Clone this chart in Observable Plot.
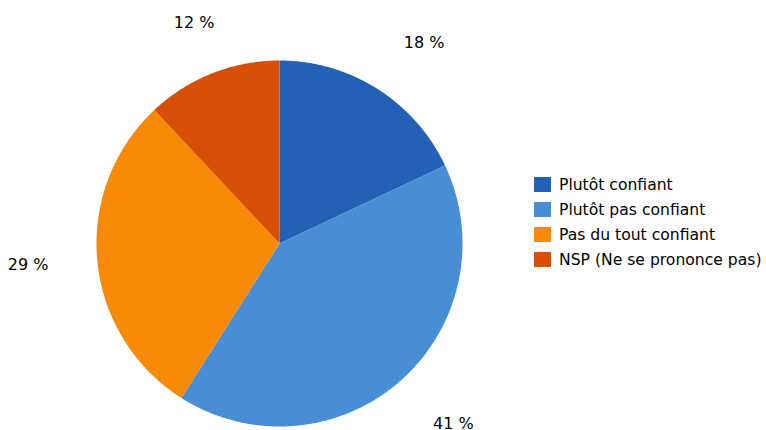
<!DOCTYPE html>
<html>
<head>
<meta charset="utf-8">
<script src="https://cdn.jsdelivr.net/npm/d3@7"></script>
<script src="https://cdn.jsdelivr.net/npm/@observablehq/plot@0.6"></script>
<style>
  html, body { margin: 0; padding: 0; background: #fff; }
  #wrap { position: relative; width: 766px; height: 430px; font-family: "DejaVu Sans", Verdana, sans-serif; }
  #legend { position: absolute; left: 534px; top: 172px; font-size: 15.6px; color: #000; white-space: nowrap; }
  .row { display: flex; align-items: center; height: 25px; white-space: nowrap; }
  .sw { width: 17px; height: 15px; margin-right: 8px; flex: none; }
</style>
</head>
<body>
<div id="wrap"></div>
<script>
const categories = ["Plutôt confiant", "Plutôt pas confiant", "Pas du tout confiant", "NSP (Ne se prononce pas)"];
const values = [18, 41, 29, 12];
const labels = ["18 %", "41 %", "29 %", "12 %"];
const colors = ["#2361b7", "#478ed4", "#f98a06", "#d74f05"];

const W = 766, H = 430, cx = 279, cy = 243, R = 183;

const arcs = d3.pie().sort(null).value(d => d)(values);
const slices = [];
arcs.forEach((a, i) => {
  const n = Math.max(2, Math.ceil((a.endAngle - a.startAngle) / 0.005));
  slices.push({cat: categories[i], x: 0, y: 0});
  for (let k = 0; k <= n; k++) {
    const t = a.startAngle + (a.endAngle - a.startAngle) * k / n;
    slices.push({cat: categories[i], x: Math.sin(t), y: Math.cos(t)});
  }
});
const lab = arcs.map((a, i) => {
  const m = (a.startAngle + a.endAngle) / 2;
  const s = Math.sin(m), c = Math.cos(m);
  return {
    label: labels[i], x: 1.268 * s, y: 1.268 * c,
    ta: s > 0.4 ? "start" : s < -0.4 ? "end" : "middle",
    la: c > 0.4 ? "bottom" : c < -0.4 ? "top" : "middle"
  };
});

const plot = Plot.plot({
  width: W, height: H,
  margin: 0,
  x: {domain: [-cx / R, (W - cx) / R], axis: null},
  y: {domain: [(cy - H) / R, cy / R], axis: null},
  color: {domain: categories, range: colors},
  style: {fontFamily: "DejaVu Sans, Verdana, sans-serif", background: "#fff"},
  marks: [
    Plot.line(slices, {x: "x", y: "y", z: "cat", fill: "cat", stroke: "none", curve: "linear-closed"}),
    ...lab.map(d => Plot.text([d], {x: "x", y: "y", text: "label", fontSize: 16, fill: "#000", textAnchor: d.ta, lineAnchor: d.la}))
  ]
});
const wrap = document.getElementById("wrap");
wrap.appendChild(plot);

const leg = document.createElement("div");
leg.id = "legend";
categories.forEach((c, i) => {
  const r = document.createElement("div");
  r.className = "row";
  const s = document.createElement("div");
  s.className = "sw";
  s.style.background = plot.scale("color").apply(c);
  const t = document.createElement("span");
  t.textContent = c;
  r.appendChild(s); r.appendChild(t);
  leg.appendChild(r);
});
wrap.appendChild(leg);
</script>
</body>
</html>
